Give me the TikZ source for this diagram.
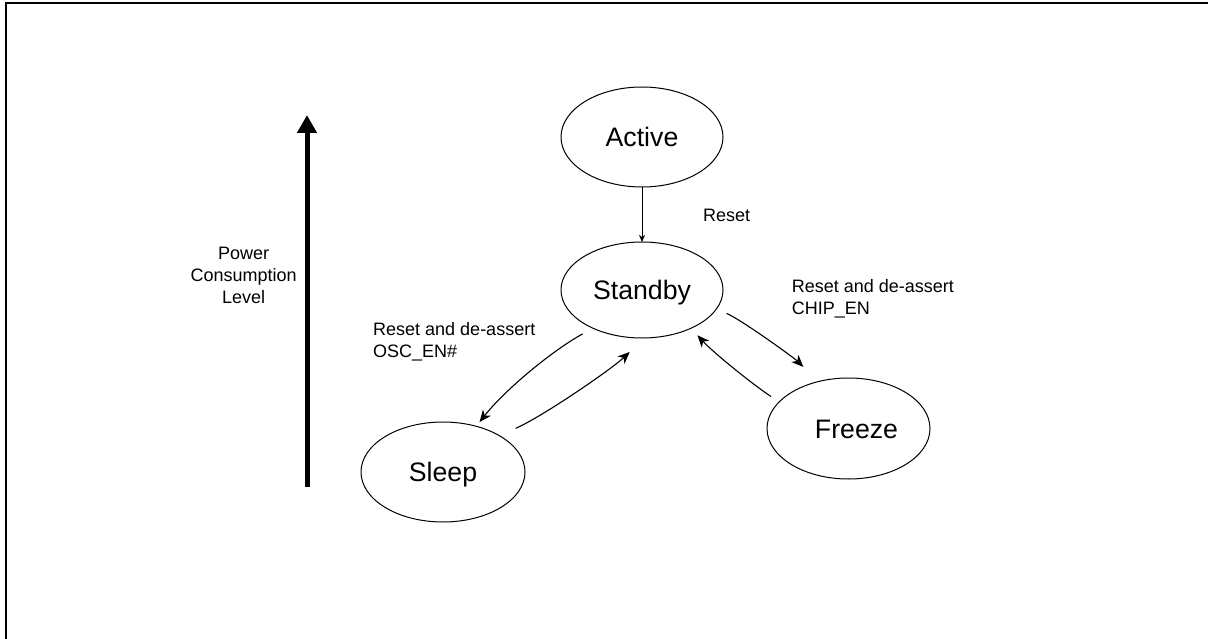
\documentclass[tikz,border=0pt]{standalone}
\usepackage{fontspec}
\setmainfont{Liberation Sans}
\usetikzlibrary{shapes.geometric,arrows.meta}
\begin{document}
\begin{tikzpicture}[x=1pt,y=-1pt,
  state/.style={draw, ellipse, line width=1pt, inner sep=0pt, outer sep=0pt,
    minimum width=162pt, minimum height=100pt,
    font=\fontsize{26.7}{32}\selectfont, text height=19.2pt, text depth=0pt},
  note/.style={font=\fontsize{18}{22}\selectfont, align=left, inner sep=0pt},
  trans/.style={line width=1.1pt, -{Stealth[length=12pt,width=10pt,inset=3.5pt]}},
  reset/.style={line width=1pt, -{Stealth[length=7pt,width=6pt,inset=2pt]}},
  level/.style={line width=5pt, -{Triangle[length=18pt,width=19pt]}},
]
\useasboundingbox (0,0) rectangle (1208,639);

% open frame: left and top edges
\draw[line width=2pt] (6,639) -- (6,3) -- (1208,3);

% power level axis (multi-line labels are placed by their last baseline)
\coordinate (plow) at (307,487);
\coordinate (phigh) at (307,115);
\draw[level] (plow) -- (phigh);
\node[note, align=center, anchor=base] (power) at (243.7,303.5) {Power\\Consumption\\Level};

% states
\node[state] (active) at (642,137) {Active};
\node[state, minimum height=96pt] (standby) at (642,290) {Standby};
\node[state, minimum width=164pt] (sleep) at (443,472) {Sleep};
\node[state, minimum width=163pt, minimum height=101pt] (freeze) at (848.5,428.5) {\hspace*{16pt}Freeze};

% transitions
\draw[reset] (active) -- (standby);
\node[note, anchor=base west] (resetlbl) at (703,221.4) {Reset};

\draw[trans, shorten <=11.8pt, shorten >=5.3pt]
  (standby.218.2) .. controls +(-40.7,22.2) and +(28.7,-36.4) .. (sleep.54.5);
\draw[trans, shorten <=18pt, shorten >=20.3pt]
  (sleep.33.5) .. controls +(42.7,-18.6) and +(-33.9,32) .. (standby.273.3);
\node[note, anchor=base west] (osc) at (373,357.5) {Reset and de-assert\\OSC\_EN\#};

\draw[trans, shorten <=11pt, shorten >=20.8pt]
  (standby.346) .. controls +(28.5,13.5) and +(-22.3,-22.3) .. (freeze.123.3);
\draw[trans, shorten <=9.9pt, shorten >=9.5pt]
  (freeze.159.2) .. controls +(-26.8,-17.6) and +(21.6,23.6) .. (standby.322.5);
\node[note, anchor=base west] (chip) at (791.7,314.7) {Reset and de-assert\\CHIP\_EN};
\end{tikzpicture}
\end{document}
